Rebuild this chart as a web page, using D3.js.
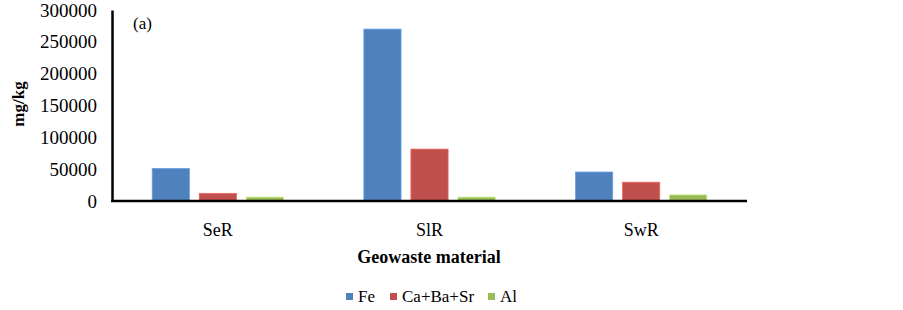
<!DOCTYPE html>
<html>
<head>
  <meta charset="utf-8">
  <title>Geowaste material</title>
  <script src="https://cdnjs.cloudflare.com/ajax/libs/d3/7.8.5/d3.min.js"></script>
  <style>
    body { margin: 0; background: #fff; }
  </style>
</head>
<body>
<script>
  // data
  var categories = ["SeR", "SlR", "SwR"];
  var series = ["Fe", "Ca+Ba+Sr", "Al"];
  var feValues = [51000, 270000, 45500];
  var caValues = [12000, 81500, 29500];
  var alValues = [6000, 6000, 9500];
  var yTicks = [0, 50000, 100000, 150000, 200000, 250000, 300000];
  var colors = ["#4f81bd", "#c0504d", "#9bbb59"];
  var serif = "Liberation Serif";

  var width = 903, height = 310;
  var margin = {top: 10, right: 156, bottom: 109, left: 112};

  var svg = d3.select("body").append("svg")
    .attr("width", width)
    .attr("height", height);

  var rows = categories.map(function(c, i) {
    return {cat: c, vals: [feValues[i], caValues[i], alValues[i]]};
  });

  var x0 = d3.scaleBand()
    .domain(categories)
    .range([margin.left, width - margin.right])
    .paddingInner(0.38)
    .paddingOuter(0.19);

  var x1 = d3.scaleBand()
    .domain(d3.range(series.length))
    .range([0, x0.bandwidth()])
    .paddingInner(0.21);

  var y = d3.scaleLinear()
    .domain([0, 300000])
    .range([height - margin.bottom, margin.top]);

  // bars
  var groups = svg.selectAll("g.grp")
    .data(rows)
    .enter().append("g")
    .attr("class", "grp")
    .attr("transform", function(d) { return "translate(" + x0(d.cat) + ",0)"; });

  groups.selectAll("rect")
    .data(function(d) { return d.vals; })
    .enter().append("rect")
    .attr("x", function(d, i) { return x1(i); })
    .attr("y", function(d) { return y(d); })
    .attr("width", x1.bandwidth())
    .attr("height", function(d) { return y(0) - y(d); })
    .attr("fill", function(d, i) { return colors[i]; })
    .attr("stroke", function(d, i) { return d3.color(colors[i]).brighter(0.6); })
    .attr("stroke-width", 0.8);

  // y axis
  var yAxis = svg.append("g")
    .attr("transform", "translate(" + margin.left + ",0)")
    .call(d3.axisLeft(y).tickValues(yTicks).tickSize(0).tickPadding(15).tickFormat(d3.format("d")));
  yAxis.select(".domain").attr("stroke", "#000").attr("stroke-width", 2.5);
  yAxis.selectAll("text")
    .style("font-family", serif)
    .style("font-size", "19px")
    .attr("fill", "#000");

  // x axis
  var xAxis = svg.append("g")
    .attr("transform", "translate(0," + y(0) + ")")
    .call(d3.axisBottom(x0).tickSize(0).tickPadding(22).tickSizeOuter(0));
  xAxis.select(".domain")
    .attr("d", "M" + (margin.left - 1) + ",0H" + (width - margin.right))
    .attr("stroke", "#000").attr("stroke-width", 2.5);
  xAxis.selectAll("text")
    .style("font-family", serif)
    .style("font-size", "18px")
    .attr("fill", "#000");

  // axis titles
  svg.append("text")
    .attr("transform", "translate(24,104) rotate(-90)")
    .attr("text-anchor", "middle")
    .style("font-family", serif)
    .style("font-weight", "bold")
    .style("font-size", "17px")
    .text("mg/kg");

  svg.append("text")
    .attr("x", 429)
    .attr("y", 263)
    .attr("text-anchor", "middle")
    .style("font-family", serif)
    .style("font-weight", "bold")
    .style("font-size", "18px")
    .text("Geowaste material");

  svg.append("text")
    .attr("x", 133)
    .attr("y", 29)
    .style("font-family", serif)
    .style("font-size", "17px")
    .text("(a)");

  // legend
  var legendX = [346, 390, 488];
  var legend = svg.append("g").attr("class", "legend");
  series.forEach(function(s, i) {
    legend.append("rect")
      .attr("x", legendX[i])
      .attr("y", 293)
      .attr("width", 7)
      .attr("height", 7)
      .attr("fill", colors[i]);
    legend.append("text")
      .attr("x", legendX[i] + 12)
      .attr("y", 302)
      .style("font-family", serif)
      .style("font-size", "17px")
      .text(s);
  });
</script>
</body>
</html>
